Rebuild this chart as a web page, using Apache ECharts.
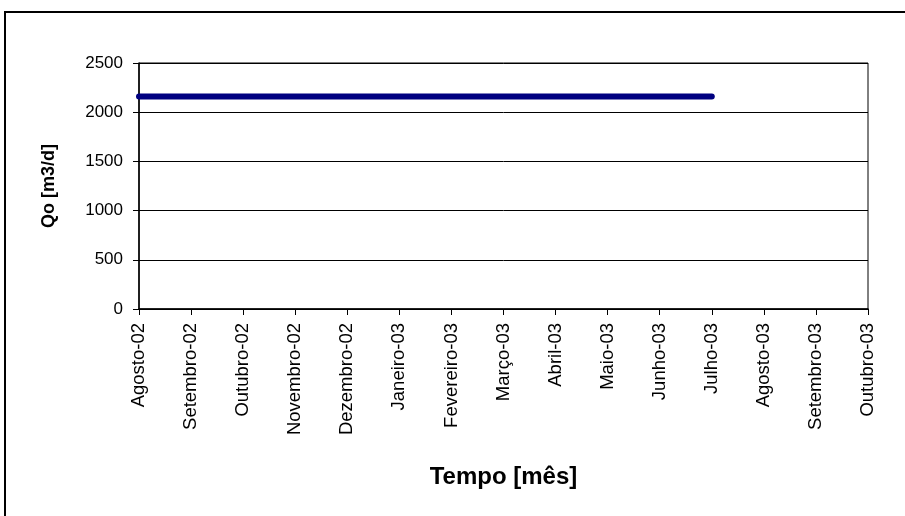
<!DOCTYPE html>
<html>
<head>
<meta charset="utf-8">
<script src="https://cdn.jsdelivr.net/npm/echarts@6/dist/echarts.min.js"></script>
<style>html,body{margin:0;padding:0;background:#fff}#c{width:905px;height:516px}</style>
</head>
<body>
<div id="c"></div>
<script>
var categories = ['Agosto-02','Setembro-02','Outubro-02','Novembro-02','Dezembro-02','Janeiro-03','Fevereiro-03','Março-03','Abril-03','Maio-03','Junho-03','Julho-03','Agosto-03','Setembro-03','Outubro-03'];
var qoValues = [2160,2160,2160,2160,2160,2160,2160,2160,2160,2160,2160,2160,null,null,null];
var yTicks = {min:0, max:2500, interval:500};

var chart = echarts.init(document.getElementById('c'), null, {renderer:'canvas'});
var font = 'Liberation Sans, Arial, sans-serif';
chart.setOption({
  animation:false,
  backgroundColor:'#fff',
  graphic:[{type:'rect', shape:{x:5, y:12, width:1000, height:600}, style:{fill:'none', stroke:'#000', lineWidth:2}, silent:true}],
  grid:{left:139, top:63, right:37, bottom:207, show:true, borderColor:'#000', borderWidth:1, backgroundColor:'#fff'},
  xAxis:{
    type:'category', data:categories, boundaryGap:false,
    name:'Tempo [mês]', nameLocation:'middle', nameGap:156,
    nameTextStyle:{fontFamily:font, fontWeight:'bold', fontSize:24, color:'#000'},
    axisLine:{lineStyle:{color:'#000', width:1.5}},
    axisTick:{show:true, length:6, lineStyle:{color:'#000'}},
    axisLabel:{rotate:90, margin:14, fontFamily:font, fontSize:18.5, color:'#000', interval:0},
    splitLine:{show:false}
  },
  yAxis:{
    type:'value', min:yTicks.min, max:yTicks.max, interval:yTicks.interval,
    name:'Qo [m3/d]', nameLocation:'middle', nameGap:81,
    nameTextStyle:{fontFamily:font, fontWeight:'bold', fontSize:18, color:'#000'},
    axisLine:{show:true, lineStyle:{color:'#000', width:1.5}},
    axisTick:{show:true, length:6, lineStyle:{color:'#000'}},
    axisLabel:{margin:16, fontFamily:font, fontSize:17, color:'#000', formatter:function(v){return String(v);}},
    splitLine:{show:true, lineStyle:{color:'#000', width:1}}
  },
  series:[{
    type:'line', data:qoValues, showSymbol:false, symbol:'none',
    lineStyle:{color:'#000080', width:6, cap:'round', join:'round'}
  }]
});
</script>
</body>
</html>
